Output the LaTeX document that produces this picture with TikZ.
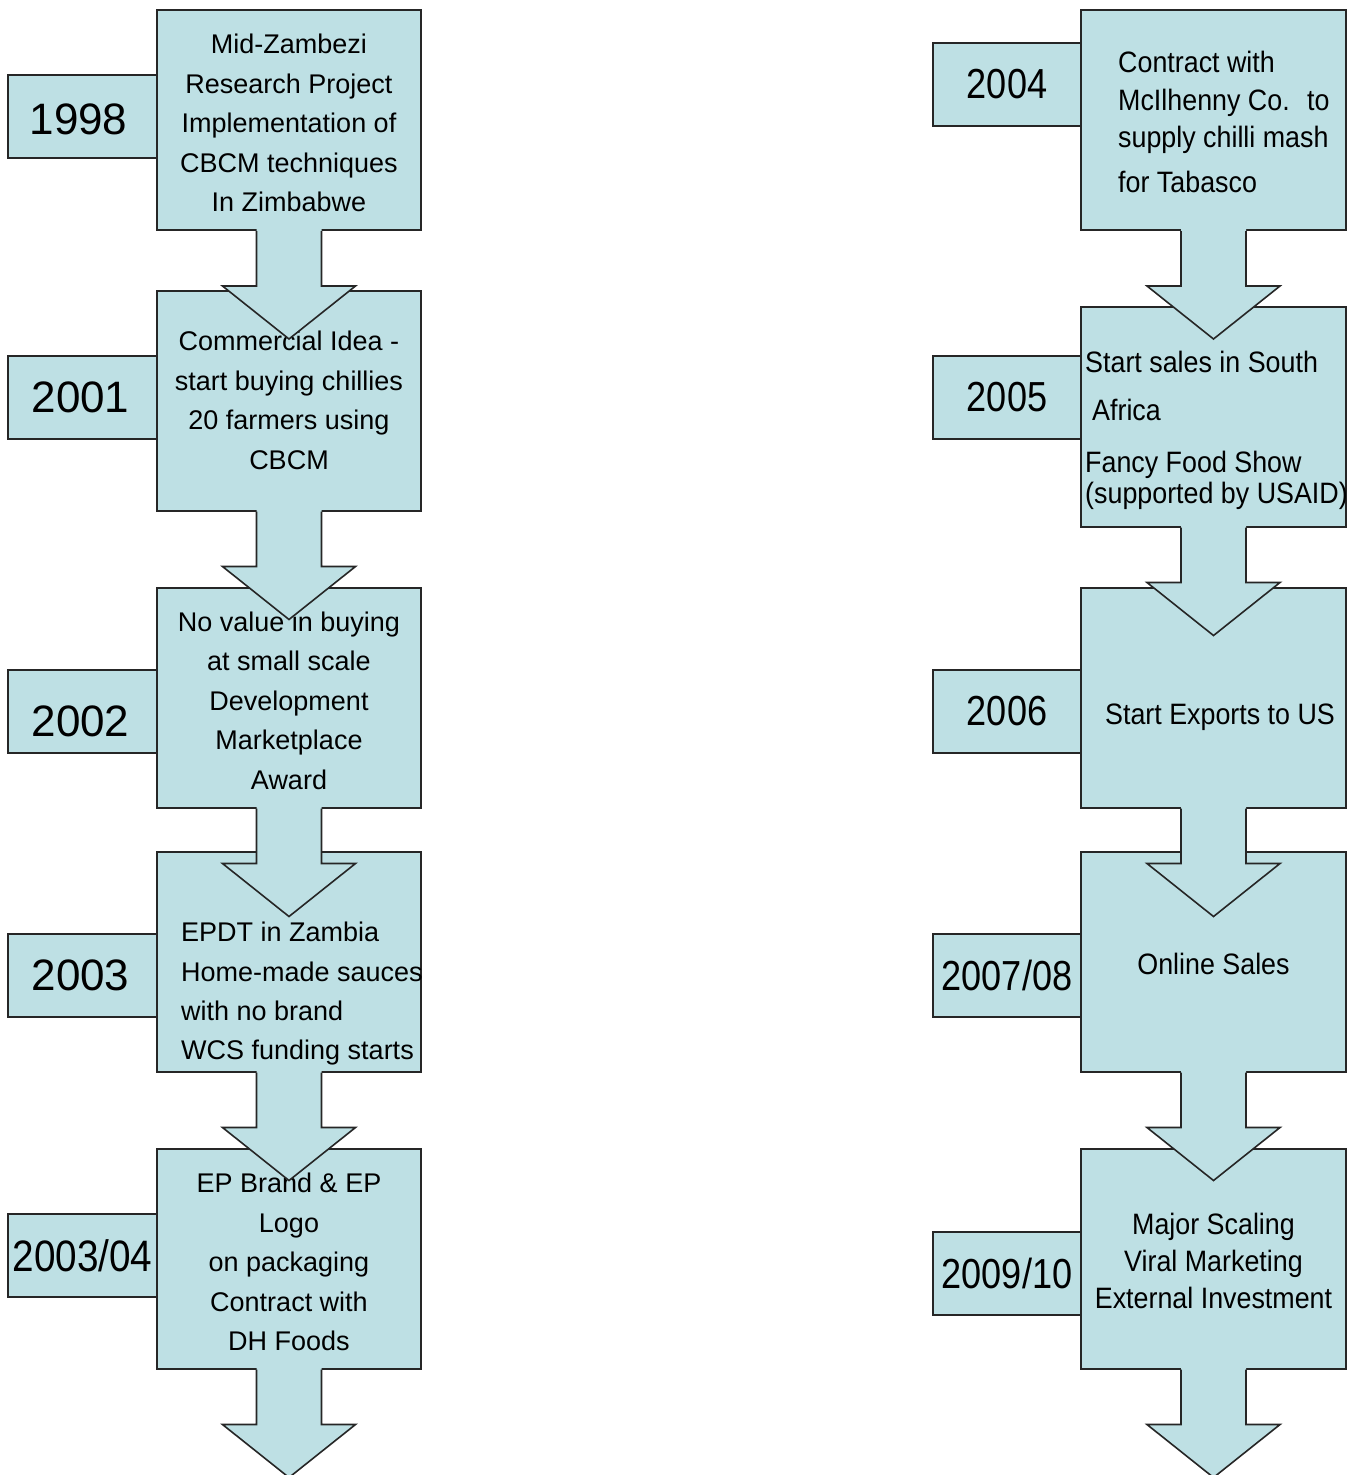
\documentclass[tikz,border=0pt]{standalone}
\usepackage{fontspec}
\setmainfont{Liberation Sans}
\newfontfamily\rnarrow[FakeStretch=0.91]{Liberation Sans}
\newfontfamily\ynarrowR[FakeStretch=0.86]{Liberation Sans}
\newfontfamily\ynarrowL[FakeStretch=0.88]{Liberation Sans}
\usetikzlibrary{calc}
\definecolor{boxc}{RGB}{190,224,228}
\definecolor{linec}{RGB}{38,38,38}
% shift year text inside its box: #1 = doubled x shift, #2 = raise
\newcommand{\nudge}[3]{\kern#1\raisebox{#2}[\height][\depth]{#3}}
% block arrow hanging below node #1
\newcommand{\blockarr}[1]{%
  \fill[boxc] ($(#1.south)+(-32.5,-2)$) -- ($(#1.south)+(-32.5,55)$) -- ($(#1.south)+(-66.5,55)$)
     -- ($(#1.south)+(0,108)$) -- ($(#1.south)+(66.5,55)$) -- ($(#1.south)+(32.5,55)$)
     -- ($(#1.south)+(32.5,-2)$) -- cycle;
  \draw[arrline] ($(#1.south)+(-32.5,0)$) -- ($(#1.south)+(-32.5,55)$) -- ($(#1.south)+(-66.5,55)$)
     -- ($(#1.south)+(0,108)$) -- ($(#1.south)+(66.5,55)$) -- ($(#1.south)+(32.5,55)$)
     -- ($(#1.south)+(32.5,0)$);}
\begin{document}
\begin{tikzpicture}[x=1pt,y=-1pt,
  bigbox/.style={draw=linec, line width=2pt, fill=boxc, minimum width=264pt,
     minimum height=220pt, inner sep=0pt},
  rbox/.style={bigbox, minimum width=265pt},
  btxt/.style={inner sep=0pt, align=center, font=\fontsize{27}{39.5}\selectfont},
  rctxt/.style={inner sep=0pt, align=center, font=\rnarrow\fontsize{29.5}{37}\selectfont},
  yearL/.style={draw=linec, line width=2pt, fill=boxc, minimum width=149pt,
     minimum height=83pt, inner sep=0pt, font=\fontsize{44}{44}\selectfont},
  yearR/.style={yearL, minimum width=148pt, font=\ynarrowR\fontsize{42}{42}\selectfont},
  ltxt/.style={anchor=north west, inner sep=0pt, align=left, font=\fontsize{27}{39.3}\selectfont},
  rtxt/.style={anchor=north west, inner sep=0pt, align=left, font=\rnarrow\fontsize{29.5}{37}\selectfont},
  arrline/.style={draw=linec, line width=1.6pt, line join=miter}]
\fill[white] (0,0) rectangle (1357,1475);
\useasboundingbox (0,0) rectangle (1357,1475);

% year boxes, left
\node[yearL] (y1) at (82.5,116.5) {\nudge{-8pt}{-3pt}{1998}};
\node[yearL] (y2) at (82.5,397.5) {\nudge{-4pt}{0pt}{2001}};
\node[yearL] (y3) at (82.5,711) {\nudge{-4pt}{-10pt}{2002}};
\node[yearL] (y4) at (82.5,975.5) {\nudge{-4pt}{0pt}{2003}};
\node[yearL, font=\ynarrowL\fontsize{44}{44}\selectfont] (y5) at (82.5,1255.5) {2003/04};
% year boxes, right
\node[yearR] (z1) at (1007,84) {2004};
\node[yearR] (z2) at (1007,397.5) {2005};
\node[yearR] (z3) at (1007,711) {2006};
\node[yearR] (z4) at (1007,975.5) {2007/08};
\node[yearR] (z5) at (1007,1273.5) {2009/10};

% big boxes, left
\node[bigbox] (b1) at (289,120) {};
\node[btxt] (t1) at (289,123) {Mid-Zambezi\\Research Project\\Implementation of\\CBCM techniques\\In Zimbabwe};
\node[bigbox] (b2) at (289,400.5) {};
\node[btxt] (t2) at (289,400.5) {Commercial Idea -\\start buying chillies\\20 farmers using\\CBCM};
\node[bigbox] (b3) at (289,697.5) {};
\node[btxt] (t3) at (289,700.5) {No value in buying\\at small scale\\Development\\Marketplace\\Award};
\node[bigbox] (b4) at (289,961.5) {};
\node[ltxt] (t4) at (181,922) {EPDT in Zambia\\Home-made sauces\\with no brand\\WCS funding starts};
\node[bigbox] (b5) at (289,1258.5) {};
\node[btxt] (t5) at (289,1262) {EP Brand \& EP\\Logo\\on packaging\\Contract with\\DH Foods};

% big boxes, right
\node[rbox] (r1) at (1213.5,120) {};
\node[rtxt] (s1) at (1118,51) {Contract with\\[1pt]McIlhenny Co.~ to\\supply chilli mash\\[8pt]for Tabasco};
\node[rbox] (r2) at (1213.5,416.5) {};
\node[rtxt, font=\rnarrow\fontsize{29.5}{31}\selectfont] (s2) at (1085,351) {Start sales in South\\[17pt]\hspace*{7pt}Africa\\[21pt]Fancy Food Show\\(supported by USAID)};
\node[rbox] (r3) at (1213.5,697.5) {};
\node[rctxt] (s3) at (1220,717) {Start Exports to US};
\node[rbox] (r4) at (1213.5,961.5) {};
\node[rctxt] (s4) at (1213.5,964) {Online Sales};
\node[rbox] (r5) at (1213.5,1258.5) {};
\node[rctxt] (s5) at (1213.5,1261) {Major Scaling\\Viral Marketing\\External Investment};

% block arrows
\blockarr{b1}
\blockarr{b2}
\blockarr{b3}
\blockarr{b4}
\blockarr{b5}
\blockarr{r1}
\blockarr{r2}
\blockarr{r3}
\blockarr{r4}
\blockarr{r5}
\end{tikzpicture}
\end{document}
